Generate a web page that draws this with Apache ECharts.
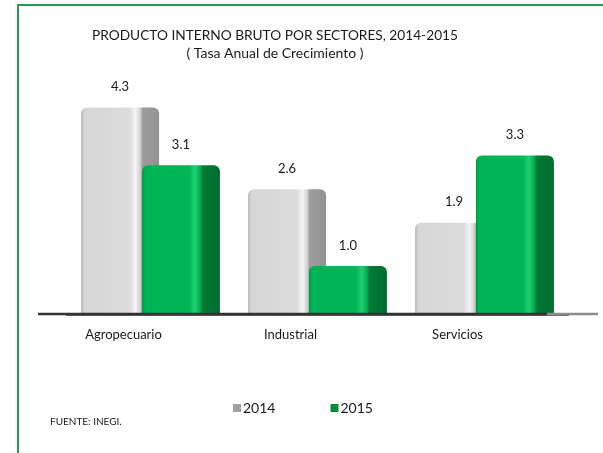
<!DOCTYPE html>
<html>
<head>
<meta charset="utf-8">
<script src="https://cdn.jsdelivr.net/npm/echarts@6/dist/echarts.min.js"></script>
<style>html,body{margin:0;padding:0;background:#fff}#c{width:603px;height:453px}</style>
</head>
<body>
<div id="c"></div>
<script>
var categories = ['Agropecuario', 'Industrial', 'Servicios'];
var seriesNames = ['2014', '2015'];
var values2014 = [4.3, 2.6, 1.9];
var values2015 = [3.1, 1.0, 3.3];
var titleText = 'PRODUCTO INTERNO BRUTO POR SECTORES, 2014-2015';
var subtitleText = '( Tasa Anual de Crecimiento )';
var sourceText = 'FUENTE: INEGI.';

var FONT = 'Lato';

function grad(stops) {
  return new echarts.graphic.LinearGradient(0, 0, 1, 0, stops.map(function (s) { return { offset: s[0], color: s[1] }; }));
}
var gray = grad([[0, '#b4b4b4'], [0.04, '#d6d6d6'], [0.62, '#dcdcdc'], [0.70, '#f4f4f4'], [0.76, '#d0d0d0'], [0.79, '#9c9c9c'], [1, '#929292']]);
var green = grad([[0, '#00964a'], [0.04, '#00b354'], [0.60, '#00b657'], [0.68, '#1fd070'], [0.75, '#00a84e'], [0.78, '#007a35'], [1, '#006d30']]);

var chart = echarts.init(document.getElementById('c'), null, { renderer: 'canvas' });
chart.setOption({
  animation: false,
  backgroundColor: '#ffffff',
  title: [
    { text: titleText, left: 270, textAlign: 'center', top: 24,
      textStyle: { fontFamily: FONT, fontSize: 13.7, fontWeight: 'normal', color: '#1a1a1a' } },
    { text: subtitleText, left: 270, textAlign: 'center', top: 41,
      textStyle: { fontFamily: FONT, fontSize: 14, fontWeight: 'normal', color: '#1a1a1a' } },
    { text: sourceText, left: 45, top: 412,
      textStyle: { fontFamily: FONT, fontSize: 10, fontWeight: 'normal', color: '#1a1a1a' } }
  ],
  legend: {
    data: [
      { name: seriesNames[0], itemStyle: { color: '#a0a0a0' } },
      { name: seriesNames[1], itemStyle: { color: '#0a8a3e' } }
    ],
    left: 228, top: 396,
    itemWidth: 8, itemHeight: 8, itemGap: 55,
    icon: 'rect',
    textStyle: { fontFamily: FONT, fontSize: 14, color: '#1a1a1a', padding: [0, 0, 0, -3] }
  },
  grid: { left: 67, right: 35, top: 74, bottom: 139, containLabel: false },
  xAxis: {
    type: 'category',
    data: categories,
    axisTick: { show: false },
    axisLine: { show: true, lineStyle: { color: '#333', width: 2.5 } },
    axisLabel: { fontFamily: FONT, fontSize: 13, color: '#1a1a1a', margin: 14, padding: [0, 54, 0, 0] }
  },
  yAxis: {
    type: 'value', min: 0, max: 5, interval: 1, show: false,
    splitLine: { show: false }
  },
  series: [
    { name: seriesNames[0], type: 'bar', data: values2014, barWidth: 78, barGap: '-22%',
      itemStyle: { color: gray, borderRadius: [6, 6, 0, 0] },
      label: { show: true, position: 'top', distance: 14, fontFamily: FONT, fontSize: 13, color: '#1a1a1a',
        formatter: function (p) { return p.value.toFixed(1); } } },
    { name: seriesNames[1], type: 'bar', data: values2015, barWidth: 78,
      itemStyle: { color: green, borderRadius: [6, 6, 0, 0] },
      label: { show: true, position: 'top', distance: 14, fontFamily: FONT, fontSize: 13, color: '#1a1a1a',
        formatter: function (p) { return p.value.toFixed(1); } } }
  ],
  graphic: [
    { type: 'line', z: 100, shape: { x1: 18, y1: 5, x2: 603, y2: 5 }, style: { stroke: '#239a55', lineWidth: 2 } },
    { type: 'line', z: 100, shape: { x1: 18, y1: 4, x2: 18, y2: 453 }, style: { stroke: '#239a55', lineWidth: 2 } },
    { type: 'line', z: 100, shape: { x1: 38, y1: 314, x2: 547, y2: 314 }, style: { stroke: '#333', lineWidth: 2.5 } },
    { type: 'line', z: 100, shape: { x1: 547, y1: 314, x2: 598, y2: 314 }, style: { stroke: '#8c8c8c', lineWidth: 2.5 } }
  ]
});
</script>
</body>
</html>
